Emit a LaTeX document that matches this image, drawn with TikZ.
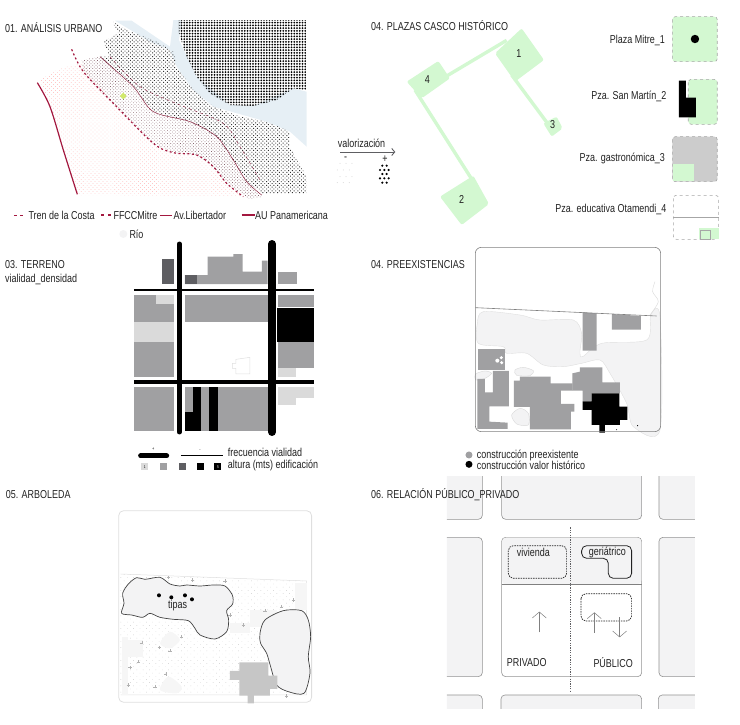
\documentclass[tikz,border=0pt]{standalone}
\usepackage{fontspec}
\setmainfont[FakeStretch=0.78]{Liberation Sans}
\usetikzlibrary{arrows.meta,patterns.meta}
\definecolor{ink}{HTML}{222222}
\definecolor{plaza}{HTML}{D3F8D1}
\definecolor{river}{HTML}{E6EFF5}
\definecolor{wine}{HTML}{A3183F}
\definecolor{blockgrey}{HTML}{A0A0A2}
\definecolor{darkgrey}{HTML}{5E5E62}
\definecolor{lightgrey}{HTML}{DADADA}
\definecolor{pale}{HTML}{F3F3F4}
\definecolor{fade}{HTML}{F6F6F6}
\tikzset{
  panel/.style={shift={#1},x=0.3333pt,y=-0.3333pt},
  lbl/.style={anchor=west,inner sep=0pt,text=ink,font=\fontsize{11.5}{13}\selectfont},
  lblr/.style={anchor=east,inner sep=0pt,text=ink,font=\fontsize{11.5}{13}\selectfont},
  lblc/.style={anchor=center,inner sep=0pt,text=ink,font=\fontsize{11.5}{13}\selectfont},
  plazabox/.style={draw=gray!70,dashed,line width=0.6pt,rounded corners=3pt,fill=plaza},
  link/.style={draw=plaza,line width=3.4pt},
  block/.style={draw=gray!85,line width=0.6pt,rounded corners=4pt,fill=pale},
  sitearrow/.style={draw=gray,line width=0.5pt,-{Straight Barb[length=6pt,width=14pt]}}
}
\begin{document}
\begin{tikzpicture}[x=1pt,y=-1pt]
  \useasboundingbox (0,0) rectangle (740,724);

  % 01 urban analysis
  \begin{scope}[panel={(0,0)}]
    \fill[river] (345,62) -- (395,62) -- (510,140) -- (520,60) -- (545,60) -- (537,120) -- (590,230) -- (690,315)
      -- (760,318) -- (880,265) -- (920,275) -- (920,440) -- (870,395) -- (800,365) -- (640,320) -- (580,270)
      -- (530,200) -- (510,150) -- (450,125) -- cycle;
    \fill[pattern={Dots[radius=0.5pt,distance=2.8pt,angle=45]},pattern color=red!22]
      (120,240) -- (180,205) -- (245,190) -- (340,310) -- (460,430) -- (520,458) -- (590,465) -- (640,500)
      -- (680,550) -- (730,588) -- (232,585) -- (190,450) -- (150,320) -- cycle;
    \fill[pattern={Dots[radius=0.5pt,distance=2.3pt,angle=45]},pattern color=wine!25!gray]
      (245,180) -- (300,170) -- (400,260) -- (460,335) -- (570,365) -- (650,410) -- (700,480) -- (740,545)
      -- (788,590) -- (750,598) -- (680,550) -- (640,500) -- (590,465) -- (520,458) -- (460,430) -- (340,310) -- (250,215) -- cycle;
    \fill[pattern={Dots[radius=0.65pt,distance=2.6pt,angle=45]},pattern color=black!80]
      (335,62) -- (380,90) -- (470,125) -- (520,155) -- (530,200) -- (580,270) -- (640,320) -- (720,350) -- (800,365)
      -- (870,395) -- (870,440) -- (920,530) -- (920,580) -- (785,580) -- (740,545) -- (700,480) -- (650,410) -- (570,365)
      -- (460,335) -- (400,260) -- (300,170) -- (330,170) -- (310,125) -- (355,100) -- cycle;
    \fill[pattern={Dots[radius=1pt,distance=2.75pt]},pattern color=black]
      (537,60) -- (920,60) -- (920,270) -- (880,265) -- (830,300) -- (760,318) -- (690,315) -- (630,280) -- (590,230) -- (560,170) -- (537,100) -- cycle;
    \fill[yellow!70!green!60] (370,278) -- (380,288) -- (370,298) -- (360,288) -- cycle;
    \draw[wine!80!black,line width=0.4pt,dashed] plot[smooth] coordinates {(330,170) (420,260) (540,315) (670,370) (720,440) (780,540)};
    \draw[wine!80!black,line width=0.45pt] plot[smooth] coordinates {(300,170) (400,260) (460,335) (570,365) (650,410) (700,480) (740,545) (785,585)};
    \draw[wine,line width=1.2pt,dash pattern=on 2pt off 2.5pt] plot[smooth] coordinates {(215,148) (250,215) (340,310) (460,430) (520,458) (590,465) (640,500) (680,550) (730,590)};
    \draw[wine,line width=1.2pt] plot[smooth] coordinates {(112,248) (150,320) (190,450) (232,583)};
    \node[lbl] (t01) at (15,84) {01. ANÁLISIS URBANO};
    \draw[wine,line width=0.6pt,dash pattern=on 3pt off 3pt] (42,645) -- (78,645);
    \node[lbl] (ltren) at (85,646) {Tren de la Costa};
    \draw[wine,line width=1.4pt,dash pattern=on 3pt off 4pt] (303,645) -- (340,645);
    \node[lbl] (lmitre) at (340,645) {FFCCMitre};
    \draw[wine,line width=0.5pt] (480,645) -- (517,645);
    \node[lbl] (llib) at (520,646) {Av.Libertador};
    \draw[wine,line width=1.4pt] (725,645) -- (765,645);
    \node[lbl] (lau) at (765,645) {AU Panamericana};
    \fill[pale] (370,702) circle (4pt);
    \node[lbl] (lrio) at (388,702) {Río};
  \end{scope}

  % 04 squares of the old town
  \begin{scope}[panel={(330,0)}]
    \node[lbl] (t02) at (123,77) {04. PLAZAS CASCO HISTÓRICO};
    \coordinate (a41) at (330,240);
    \coordinate (a14) at (530,121);
    \coordinate (a13) at (545,225);
    \coordinate (a31) at (660,380);
    \coordinate (a42) at (255,270);
    \coordinate (a24) at (430,545);
    \draw[link] (a41) -- (a14);
    \draw[link] (a13) -- (a31);
    \draw[link] (a42) -- (a24);
    \fill[plaza,rounded corners=2pt] (575,85) -- (642,180) -- (555,245) -- (495,160) -- cycle;
    \fill[plaza,rounded corners=2pt] (325,183) -- (360,235) -- (275,295) -- (230,245) -- cycle;
    \fill[plaza,rounded corners=2pt] (430,527) -- (477,612) -- (395,675) -- (330,590) -- cycle;
    \fill[plaza,rounded corners=2pt] (680,350) -- (698,385) -- (665,410) -- (640,370) -- cycle;
    \node[lblc] (n1) at (567,160) {1};
    \node[lblc] (n4) at (292,240) {4};
    \node[lblc] (n2) at (395,598) {2};
    \node[lblc] (n3) at (668,375) {3};
    \node[lblr] (lmitre1) at (1005,122) {Plaza Mitre\_1};
    \draw[plazabox] (1027,50) rectangle (1162,185);
    \fill[black] (1095,117) circle (4.2pt);
    \node[lblr] (lsan) at (1010,290) {Pza. San Martín\_2};
    \draw[plazabox] (1075,238) rectangle (1162,373);
    \fill[black] (1047,242) -- (1068,242) -- (1068,293) -- (1098,293) -- (1098,352) -- (1047,352) -- cycle;
    \node[lblr] (lgas) at (1005,476) {Pza. gastronómica\_3};
    \draw[plazabox,fill=gray!40] (1027,410) rectangle (1162,545);
    \fill[plaza] (1029,492) -- (1093,492) -- (1093,543) -- (1029,543) -- cycle;
    \node[lblr] (ledu) at (1010,627) {Pza. educativa Otamendi\_4};
    \draw[plazabox,fill=white] (1030,586) rectangle (1166,718);
    \fill[plaza] (1108,683) rectangle (1166,718);
    \draw[gray!70,line width=0.6pt] (1030,652) -- (1166,652);
    \draw[gray!70,line width=0.6pt] (1110,692) rectangle (1140,718);
    \node[lbl] (lval) at (23,431) {valorización};
    \coordinate (vala) at (30,456);
    \coordinate (valb) at (196,456);
    \draw[darkgrey,line width=0.9pt,-{Straight Barb[length=3pt,width=7pt]}] (vala) -- (valb);
    \node[lblc] (lminus) at (47,477) {-};
    \node[lblc] (lplus) at (165,477) {+};
    \foreach \xa/\ya in {157/497,170/497,150/510,163/510,176/510,157/522,170/522,150/535,163/535,176/535,157/548,170/548}{
      \fill[black] (\xa,\ya) circle (1.2pt);
    }
    \foreach \xa/\ya in {30/490,48/490,66/490,22/510,40/510,58/510,30/530,48/530,66/530,22/548,40/548,58/548}{
      \fill[gray!35] (\xa,\ya) circle (0.5pt);
    }
  \end{scope}

  % 03 plot and road density
  \begin{scope}[panel={(0,240)}]
    \node[lbl] (t03) at (15,75) {03. TERRENO};
    \node[lbl] (t03b) at (15,118) {vialidad\_densidad};
    \fill[darkgrey] (487,57) rectangle (522,132);
    \fill[blockgrey] (555,132) -- (555,105) -- (623,105) -- (623,50) -- (700,50) -- (700,42) -- (728,42) -- (728,95) -- (786,95) -- (786,62) -- (803,62) -- (803,132) -- cycle;
    \fill[darkgrey] (555,105) rectangle (590,132);
    \fill[blockgrey] (833,96) rectangle (892,132);
    \fill[blockgrey] (402,165) rectangle (522,247);
    \fill[lightgrey] (467,165) rectangle (522,192);
    \fill[lightgrey] (402,247) rectangle (522,305);
    \fill[blockgrey] (402,305) rectangle (522,410);
    \fill[blockgrey] (555,165) rectangle (803,247);
    \fill[blockgrey] (833,165) rectangle (942,200);
    \fill[black] (832,203) rectangle (942,305);
    \fill[blockgrey] (833,307) rectangle (942,383);
    \fill[lightgrey] (833,383) rectangle (887,410);
    \draw[gray!25,line width=0.5pt] (708,358) -- (750,352) -- (750,402) -- (708,402) -- (708,385) -- (697,385) -- (697,370) -- (708,370) -- cycle;
    \fill[blockgrey] (402,442) rectangle (522,573);
    \fill[blockgrey] (555,442) rectangle (803,573);
    \fill[black] (578,442) rectangle (603,573);
    \fill[black] (555,516) rectangle (578,573);
    \fill[black] (627,442) rectangle (654,573);
    \fill[lightgrey] (833,442) rectangle (942,475);
    \fill[lightgrey] (833,475) rectangle (887,494);
    \draw[black,line width=5pt,line cap=round] (538,12) -- (538,576);
    \draw[black,line width=8pt,line cap=round] (816,12) -- (816,576);
    \draw[black,line width=2pt] (402,150) -- (942,150);
    \draw[black,line width=3.5pt] (402,426) -- (942,426);
    \draw[black,line width=5pt,line cap=round] (422,648) -- (500,648);
    \draw[black,line width=1pt] (543,647) -- (668,647);
    \node[lblc,font=\tiny] (lmore) at (460,628) {+};
    \node[lblc,font=\tiny] (lless) at (600,632) {-};
    \node[lbl] (lfrec) at (683,638) {frecuencia vialidad};
    \node[lbl] (lalt) at (683,676) {altura (mts) edificación};
    \node[fill=lightgrey,minimum size=7pt,inner sep=0pt,font=\fontsize{4}{4}\selectfont] (sq1) at (434,681) {1};
    \node[fill=blockgrey,minimum size=7pt,inner sep=0pt] (sq2) at (490,681) {};
    \node[fill=darkgrey,minimum size=7pt,inner sep=0pt] (sq3) at (547,681) {};
    \node[fill=black,minimum size=7pt,inner sep=0pt] (sq4) at (602,681) {};
    \node[fill=black,minimum size=7pt,inner sep=0pt,text=white,font=\fontsize{4}{4}\selectfont] (sq5) at (654,681) {5};
  \end{scope}

  % 04 existing buildings
  \begin{scope}[panel={(360,240)}]
    \node[lbl] (t04) at (33,73) {04. PREEXISTENCIAS};
    \draw[gray!25,line width=0.4pt,fill=pale] plot[smooth cycle,tension=0.5] coordinates {(352,250) (370,215) (480,225) (540,240) (640,240) (665,280) (660,335) (668,350) (725,310) (860,300) (872,225) (900,230) (900,570) (820,560) (800,490) (750,400) (720,360) (665,370) (610,380) (550,375) (500,340) (440,340) (430,320) (355,310)};
    \draw[gray!30,line width=0.4pt,fill=pale] plot[smooth cycle] coordinates {(465,390) (490,382) (520,392) (510,407) (470,406)};
    \draw[gray!30,line width=0.4pt,fill=pale] plot[smooth cycle] coordinates {(455,525) (480,505) (505,520) (505,555) (470,552)};
    \draw[gray!30,line width=0.4pt,fill=pale] plot[smooth cycle] coordinates {(347,402) (375,393) (395,400) (375,415) (348,420)};
    \draw[gray!30,line width=0.4pt] plot[smooth] coordinates {(885,125) (878,155) (895,185) (870,225)};
    \fill[blockgrey] (668,217) -- (710,220) -- (710,332) -- (668,332) -- cycle;
    \fill[blockgrey] (756,222) -- (843,228) -- (843,269) -- (756,269) -- cycle;
    \fill[blockgrey] (354,326) rectangle (436,390);
    \fill[blockgrey] (399,393) -- (447,393) -- (447,499) -- (388,499) -- (388,545) -- (443,548) -- (443,567) -- (352,567) -- (352,417) -- (375,417) -- (375,457) -- (399,457) -- cycle;
    \fill[blockgrey] (462,422) -- (480,422) -- (480,410) -- (572,410) -- (572,430) -- (638,430) -- (638,452) -- (603,452) -- (603,492) -- (643,492) -- (643,515) -- (633,515) -- (633,568) -- (510,568) -- (510,501) -- (462,501) -- cycle;
    \fill[blockgrey] (637,400) -- (660,395) -- (660,382) -- (727,382) -- (727,427) -- (780,427) -- (780,460) -- (695,460) -- (695,484) -- (668,484) -- (668,452) -- (637,452) -- cycle;
    \fill[black] (695,460) -- (778,460) -- (778,500) -- (802,500) -- (802,540) -- (780,540) -- (780,555) -- (735,555) -- (735,578) -- (718,578) -- (718,555) -- (695,555) -- (695,510) -- (668,510) -- (668,484) -- (695,484) -- cycle;
    \fill[white] (412,362) circle (2pt) (424,353) circle (1.7pt) (425,368) circle (1.7pt);
    \fill[black] (770,569) circle (0.5pt) (833,557) circle (0.6pt);
    \draw[gray,line width=0.6pt,rounded corners=6pt] (346,22) rectangle (902,575);
    \draw[gray,line width=0.6pt] (346,203) -- (890,228);
    \fill[blockgrey] (327,645) circle (3.5pt);
    \fill[black] (327,673) circle (3.5pt);
    \node[lbl] (lpre) at (350,645) {construcción preexistente};
    \node[lbl] (lhis) at (350,676) {construcción valor histórico};
  \end{scope}

  % 05 trees
  \begin{scope}[panel={(0,480)}]
    \node[lbl] (t05) at (17,45) {05. ARBOLEDA};
    \draw[gray!25,line width=0.8pt,rounded corners=5pt] (356,92) rectangle (935,667);
    \fill[pattern={Dots[radius=0.3pt,distance=4.5pt,angle=45]},pattern color=gray!70] (362,282) -- (920,303) -- (920,645) -- (362,645) -- cycle;
    \draw[gray!25,line width=0.5pt] (362,282) -- (920,303) -- (920,645) -- (362,645);
    \fill[fade] (885,308) rectangle (920,390);
    \fill[fade] (750,390) rectangle (830,440);
    \fill[fade] (690,430) rectangle (750,460);
    \fill[fade] (365,470) rectangle (385,645);
    \fill[fade] (385,480) rectangle (430,530);
    \fill[fade] plot[smooth cycle] coordinates {(480,490) (510,455) (540,480) (510,505)};
    \fill[fade] plot[smooth cycle] coordinates {(480,630) (505,590) (545,620) (530,640)};
    \foreach \xa/\ya in {505/292,578/300,675/303,690/405,730/435,845/380,880/360,795/392,425/488,478/502,545/470,510/512,415/545,390/562,497/582,465/620,385/615,860/648}{
      \draw[gray!60,line width=0.3pt] (\xa-5,\ya) -- (\xa+5,\ya) (\xa,\ya-5) -- (\xa,\ya+5);
    }
    \draw[ink!85,line width=0.7pt,fill=pale] plot[smooth cycle,tension=0.5] coordinates {(365,400) (372,370) (368,340) (385,312) (410,293) (435,298) (480,292) (510,312) (540,318) (560,315) (600,318) (640,315) (675,318) (697,345) (698,372) (680,392) (686,420) (680,455) (645,477) (600,465) (585,445) (565,422) (520,418) (480,412) (450,400) (428,412) (395,405)};
    \draw[ink!85,line width=0.7pt,fill=pale] plot[smooth cycle,tension=0.5] coordinates {(780,460) (795,420) (850,392) (905,392) (925,420) (932,470) (925,530) (930,580) (912,640) (865,635) (830,615) (812,560) (800,520) (782,490)};
    \fill[black] (477,346) circle (2pt) (514,352) circle (2pt) (555,346) circle (2pt) (576,358) circle (2pt);
    \node[lblc] (ltipas) at (533,376) {tipas};
    \fill[gray!45] (718,547) -- (805,547) -- (805,587) -- (832,587) -- (832,627) -- (810,627) -- (810,647) -- (762,647) -- (762,670) -- (743,670) -- (743,647) -- (718,647) -- (718,600) -- (690,600) -- (690,573) -- (718,573) -- cycle;
  \end{scope}

  % 06 public and private
  \begin{scope}[panel={(360,475)}]
    \begin{scope}
      \clip (261,5) rectangle (1005,700);
      \draw[block] (200,-40) rectangle (367,133);
      \draw[block] (425,-40) rectangle (845,133);
      \draw[block] (897,-40) rectangle (1080,133);
      \draw[block] (200,187) rectangle (367,605);
      \draw[block,fill=white] (425,187) rectangle (845,605);
      \draw[block] (897,187) rectangle (1080,605);
      \draw[block] (200,660) rectangle (367,760);
      \draw[block] (423,660) rectangle (845,760);
      \draw[block] (895,660) rectangle (1080,760);
    \end{scope}
    \fill[pale,rounded corners=4pt] (426,188) -- (844,188) -- (844,328) -- (426,328) -- cycle;
    \draw[gray,line width=0.5pt] (425,328) -- (845,328);
    \node[lbl] (t06) at (33,60) {06. RELACIÓN PÚBLICO\_PRIVADO};
    \coordinate (diva) at (632,157);
    \coordinate (divb) at (632,650);
    \draw[darkgrey,line width=1pt,dash pattern=on 1.2pt off 1.2pt] (diva) -- (divb);
    \draw[ink,line width=0.7pt,dashed,dash pattern=on 1.5pt off 1pt,rounded corners=5pt] (445,212) rectangle (620,310);
    \draw[ink,line width=0.8pt,rounded corners=5pt] (665,212) -- (815,212) -- (815,310) -- (745,310) -- (745,250) -- (665,250) -- cycle;
    \draw[ink,line width=0.7pt,dashed,dash pattern=on 1.5pt off 1pt,rounded corners=5pt] (663,356) rectangle (815,438);
    \node[lblc] (lviv) at (520,232) {vivienda};
    \node[lblc] (lger) at (742,232) {geriátrico};
    \coordinate (pa) at (538,472);
    \coordinate (pb) at (538,410);
    \coordinate (qa) at (703,474);
    \coordinate (qb) at (703,412);
    \coordinate (ra) at (779,427);
    \coordinate (rb) at (779,487);
    \draw[sitearrow] (pa) -- (pb);
    \draw[sitearrow] (qa) -- (qb);
    \draw[sitearrow] (ra) -- (rb);
    \node[lbl] (lpriv) at (440,563) {PRIVADO};
    \node[lbl] (lpub) at (700,563) {PÚBLICO};
  \end{scope}
\end{tikzpicture}
\end{document}
